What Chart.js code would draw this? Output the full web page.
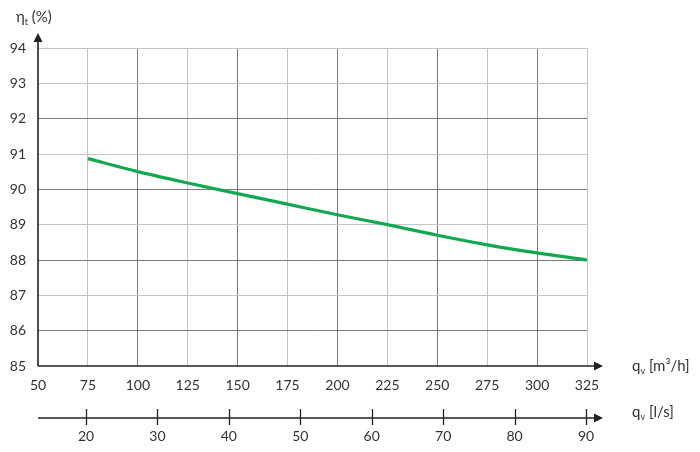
<!DOCTYPE html>
<html>
<head>
<meta charset="utf-8">
<script src="https://cdn.jsdelivr.net/npm/chart.js@4.4.1/dist/chart.umd.min.js"></script>
<style>
  html, body { margin: 0; padding: 0; background: #fff; }
  #wrap { width: 700px; height: 452px; position: relative; }
</style>
</head>
<body>
<div id="wrap"><canvas id="chart"></canvas></div>
<script>
// --- data ---
const flowM3h = [75, 100, 125, 150, 175, 200, 225, 250, 275, 300, 325];
const efficiency = [90.87, 90.5, 90.18, 89.88, 89.58, 89.28, 89.0, 88.7, 88.43, 88.2, 88.0];
const yTicks = [85, 86, 87, 88, 89, 90, 91, 92, 93, 94];
const xTicks = [50, 75, 100, 125, 150, 175, 200, 225, 250, 275, 300, 325];
const lsTicks = [20, 30, 40, 50, 60, 70, 80, 90];

// l/s scale range as it sits under the m3/h axis in the picture
const LS_MIN = 13.28;
const LS_MAX = 90.14;

const FONT = 'Lato, "Open Sans", sans-serif';
const TEXT = '#333';
const GRID_LIGHT = '#c4c4c4';
const GRID_DARK = '#7a7a7a';
const GREEN = '#13a84f';

// axis lines, arrows, secondary ticks and axis titles
const axisDecor = {
  id: 'axisDecor',
  afterDraw(chart) {
    const { ctx, chartArea: a, scales } = chart;
    const x2 = scales.x2;
    const lsY = x2.top;
    ctx.save();
    ctx.strokeStyle = '#222';
    ctx.fillStyle = '#222';
    ctx.lineWidth = 1.6;

    // y axis + arrow
    ctx.beginPath();
    ctx.moveTo(a.left, a.bottom);
    ctx.lineTo(a.left, a.top - 8);
    ctx.stroke();
    arrowUp(ctx, a.left, a.top - 15);

    // x axis + arrow
    ctx.beginPath();
    ctx.moveTo(a.left, a.bottom);
    ctx.lineTo(a.right + 10, a.bottom);
    ctx.stroke();
    arrowRight(ctx, a.right + 16, a.bottom);

    // l/s axis + arrow
    ctx.beginPath();
    ctx.moveTo(a.left, lsY);
    ctx.lineTo(a.right + 10, lsY);
    ctx.stroke();
    arrowRight(ctx, a.right + 16, lsY);

    // l/s tick marks crossing the line
    ctx.lineWidth = 1.3;
    lsTicks.forEach(v => {
      const px = Math.round(x2.getPixelForValue(v)) + 0.5;
      ctx.beginPath();
      ctx.moveTo(px, lsY - 9);
      ctx.lineTo(px, lsY + 7);
      ctx.stroke();
    });

    // titles
    ctx.fillStyle = TEXT;
    ctx.textBaseline = 'alphabetic';
    ctx.textAlign = 'left';
    drawSub(ctx, 'η', 't', ' (%)', 16, 22);
    drawSub(ctx, 'q', 'v', ' [m³/h]', 632, a.bottom + 5);
    drawSub(ctx, 'q', 'v', ' [l/s]', 632, lsY - 1);
    ctx.restore();
  }
};

function arrowUp(ctx, x, tipY) {
  ctx.beginPath();
  ctx.moveTo(x, tipY);
  ctx.lineTo(x - 4.5, tipY + 9);
  ctx.lineTo(x + 4.5, tipY + 9);
  ctx.closePath();
  ctx.fill();
}

function arrowRight(ctx, tipX, y) {
  ctx.beginPath();
  ctx.moveTo(tipX, y);
  ctx.lineTo(tipX - 9, y - 4.5);
  ctx.lineTo(tipX - 9, y + 4.5);
  ctx.closePath();
  ctx.fill();
}

function drawSub(ctx, main, sub, rest, x, y) {
  ctx.font = '15px ' + FONT;
  ctx.fillText(main, x, y);
  let w = ctx.measureText(main).width;
  ctx.font = '9px ' + FONT;
  ctx.fillText(sub, x + w, y + 3);
  w += ctx.measureText(sub).width;
  ctx.font = '15px ' + FONT;
  ctx.fillText(rest, x + w, y);
}

new Chart(document.getElementById('chart'), {
  type: 'line',
  data: {
    datasets: [{
      data: flowM3h.map((q, i) => ({ x: q, y: efficiency[i] })),
      borderColor: GREEN,
      borderWidth: 3.2,
      pointRadius: 0,
      tension: 0.4,
      cubicInterpolationMode: 'monotone',
      fill: false
    }]
  },
  options: {
    responsive: true,
    maintainAspectRatio: false,
    animation: false,
    layout: { padding: { top: 48, right: 113, left: 0, bottom: 0 } },
    plugins: { legend: { display: false }, tooltip: { enabled: false } },
    scales: {
      x: {
        type: 'linear',
        position: 'bottom',
        min: 50,
        max: 325,
        afterBuildTicks: s => { s.ticks = xTicks.map(v => ({ value: v })); },
        afterFit: s => { s.height = 52; },
        ticks: { color: TEXT, font: { family: FONT, size: 14 }, padding: 11, maxRotation: 0 },
        grid: {
          drawTicks: false,
          lineWidth: 1,
          color: c => c.tick.value === 50 ? 'rgba(0,0,0,0)' : (c.tick.value % 50 === 0 ? GRID_DARK : GRID_LIGHT)
        },
        border: { display: false }
      },
      x2: {
        type: 'linear',
        position: 'bottom',
        min: LS_MIN,
        max: LS_MAX,
        afterBuildTicks: s => { s.ticks = lsTicks.map(v => ({ value: v })); },
        afterFit: s => { s.height = 34; },
        ticks: { color: TEXT, font: { family: FONT, size: 14 }, padding: 10, maxRotation: 0 },
        grid: { display: false, drawTicks: false },
        border: { display: false }
      },
      y: {
        min: 85,
        max: 94,
        afterBuildTicks: s => { s.ticks = yTicks.map(v => ({ value: v })); },
        afterFit: s => { s.width = 38; },
        ticks: { color: TEXT, font: { family: FONT, size: 14 }, padding: 12 },
        grid: {
          drawTicks: false,
          lineWidth: 1,
          color: c => c.tick.value === 85 ? 'rgba(0,0,0,0)' : (c.tick.value === 94 || c.tick.value % 2 === 1 ? GRID_LIGHT : GRID_DARK)
        },
        border: { display: false }
      }
    }
  },
  plugins: [axisDecor]
});
</script>
</body>
</html>
